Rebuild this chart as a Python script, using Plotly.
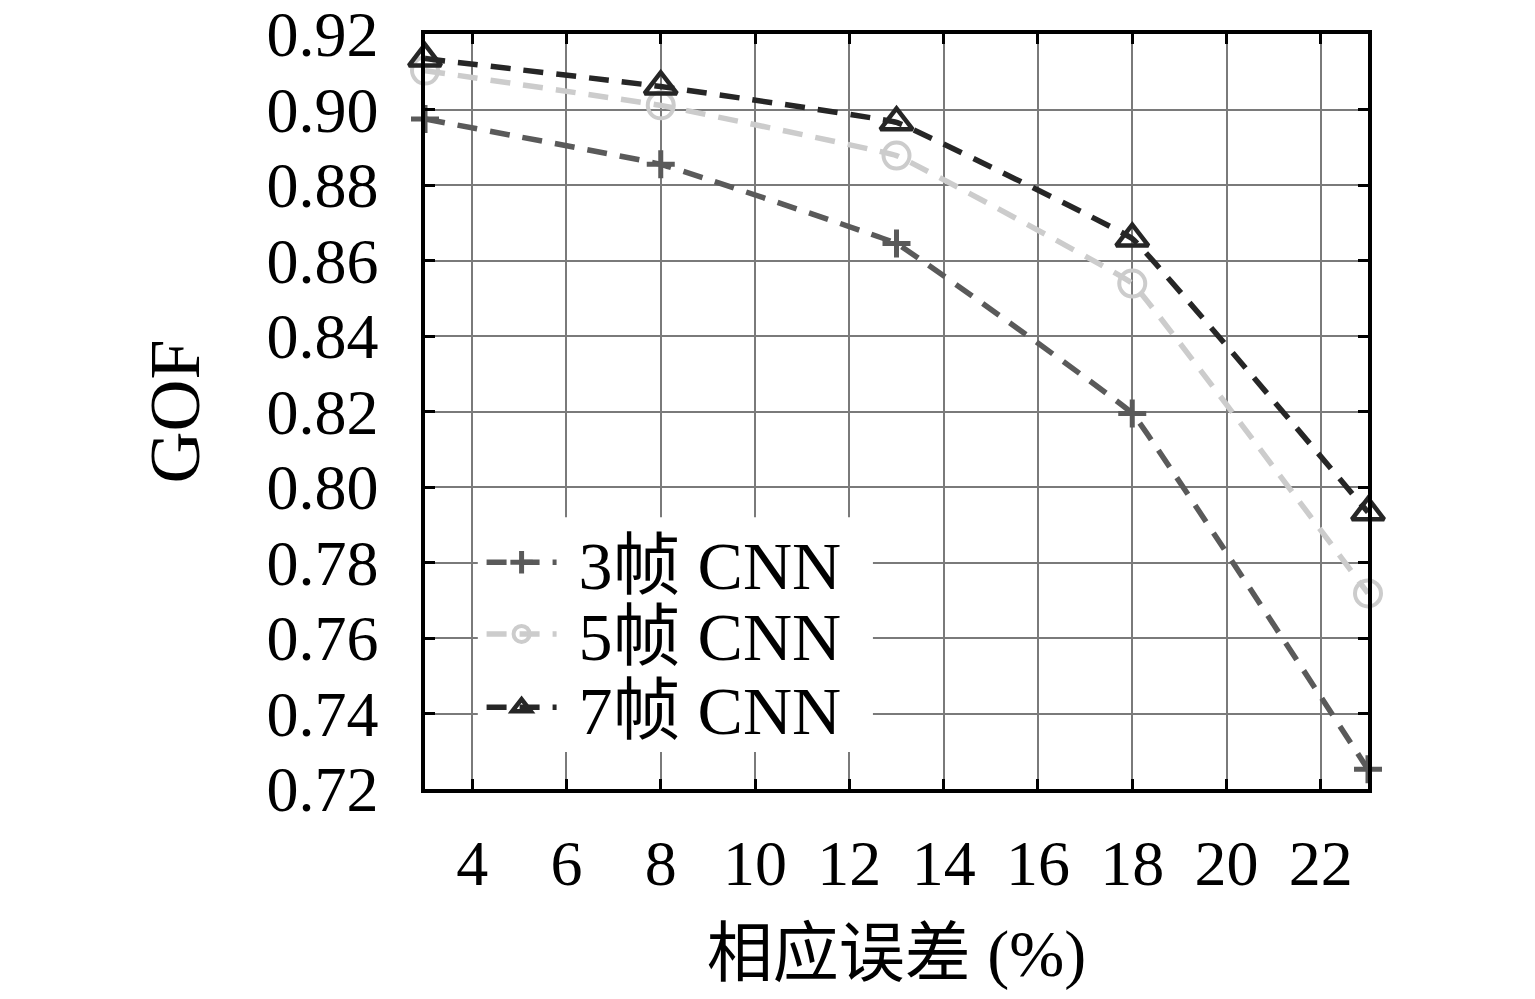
import plotly.graph_objects as go

x_vals = [3, 8, 13, 18, 23]
gof_3 = [0.8975, 0.8855, 0.8645, 0.8195, 0.7252]
gof_5 = [0.9103, 0.9011, 0.8878, 0.8539, 0.7718]
gof_7 = [0.9135, 0.9061, 0.8966, 0.8658, 0.7933]
names = ["3帧 CNN", "5帧 CNN", "7帧 CNN"]
x_ticks = [4, 6, 8, 10, 12, 14, 16, 18, 20, 22]
y_ticks = [0.72, 0.74, 0.76, 0.78, 0.80, 0.82, 0.84, 0.86, 0.88, 0.90, 0.92]

FONT = "Liberation Serif, 'Noto Sans CJK SC', serif"

fig = go.Figure()
styles = [
    (gof_3, "#5a5a5a", "cross-thin-open", 20, 5, "legend"),
    (gof_5, "#cccccc", "circle-open", 26, 4, "legend2"),
    (gof_7, "#262626", "triangle-up-open", 28, 4.5, "legend3"),
]
for (ys, col, sym, sz, mlw, lg), nm in zip(styles, names):
    fig.add_trace(go.Scatter(
        x=x_vals, y=ys, name="\u00a0" + nm, mode="lines+markers", legend=lg,
        cliponaxis=False,
        line=dict(color=col, width=5.5, dash="20px,13px", shape="spline", smoothing=0.15),
        marker=dict(symbol=sym, size=sz, color=col, line=dict(color=col, width=mlw)),
    ))

axis_common = dict(
    showline=True, linecolor="black", linewidth=3.5, mirror="ticks",
    ticks="inside", ticklen=10, tickwidth=3, tickcolor="black",
    showgrid=True, gridcolor="#7a7a7a", gridwidth=2,
    zeroline=False, automargin=False, ticklabeloverflow="allow",
    tickfont=dict(family=FONT, size=64, color="black"),
)

fig.update_xaxes(
    range=[3, 23], tickvals=x_ticks, ticktext=[str(v) for v in x_ticks],
    ticklabelstandoff=15,
    title=dict(text="相应误差 (%)", font=dict(family=FONT, size=66, color="black"), standoff=40),
    **axis_common,
)
fig.update_yaxes(
    range=[0.72, 0.92], tickvals=y_ticks, ticktext=[f"{v:.2f}" for v in y_ticks],
    ticklabelstandoff=30,
    title=dict(text="GOF", font=dict(family=FONT, size=72, color="black"), standoff=44),
    **axis_common,
)

leg_common = dict(
    x=0.06, xanchor="left", yanchor="middle",
    bgcolor="rgba(0,0,0,0)", borderwidth=0,
    font=dict(family=FONT, size=68, color="black"),
    itemsizing="trace", itemwidth=70,
)

# white legend background box
fig.add_shape(type="rect", xref="paper", yref="paper",
              x0=0.056, x1=0.475, y0=0.049, y1=0.36,
              fillcolor="white", line=dict(width=0), layer="above")

fig.update_layout(
    width=1519, height=983,
    margin=dict(l=417, r=159, t=26, b=202),
    paper_bgcolor="white", plot_bgcolor="white",
    showlegend=True,
    legend=dict(y=0.300, **leg_common),
    legend2=dict(y=0.205, **leg_common),
    legend3=dict(y=0.108, **leg_common),
)

fig.write_html("out.html")
